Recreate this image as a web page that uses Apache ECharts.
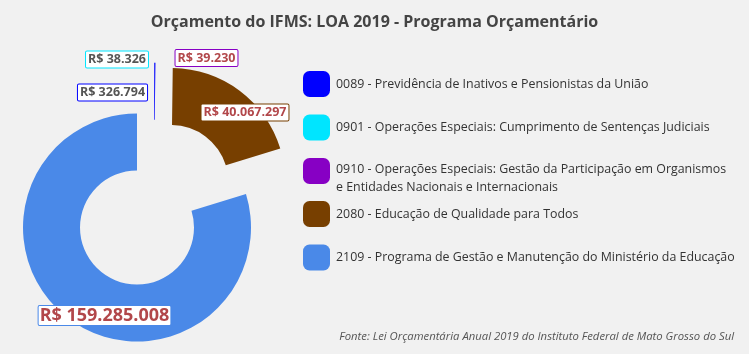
<!DOCTYPE html>
<html>
<head>
<meta charset="utf-8">
<script src="https://cdn.jsdelivr.net/npm/echarts@6/dist/echarts.min.js"></script>
<style>
  html, body { margin: 0; padding: 0; background: #f1f1f1; }
  #chart { width: 749px; height: 354px; }
</style>
</head>
<body>
<div id="chart"></div>
<script>
// programas na ordem em que aparecem na legenda
const legendNames = [
  '0089 - Previdência de Inativos e Pensionistas da União',
  '0901 - Operações Especiais: Cumprimento de Sentenças Judiciais',
  '0910 - Operações Especiais: Gestão da Participação em Organismos\ne Entidades Nacionais e Internacionais',
  '2080 - Educação de Qualidade para Todos',
  '2109 - Programa de Gestão e Manutenção do Ministério da Educação'
];
const values = [326794, 38326, 39230, 40067297, 159285008];
const colors = ['#0000ff', '#00e5ff', '#8700c4', '#773f00', '#4a89e8'];
const labelColors = ['#555555', '#555555', '#b2474a', '#b2474a', '#b2474a'];

// ordem horaria no grafico (a partir das 12h)
const pieOrder = [1, 2, 0, 3, 4];

// fatias "puxadas": cada grupo vira uma serie com centro deslocado
const groups = [
  { items: [4], center: [137, 227.5] },
  { items: [3], center: [171.3, 182] },
  { items: [0, 1, 2], center: [154, 176.7] }
];

// posicao dos rotulos (centro da caixa)
const labelPos = {
  0: [112.5, 92.5],
  1: [117, 59.5],
  2: [206.5, 58],
  3: [245, 112.5],
  4: [104.5, 315.5]
};

function fmt(v) {
  return 'R$ ' + v.toString().replace(/\B(?=(\d{3})+(?!\d))/g, '.');
}

const chart = echarts.init(document.getElementById('chart'));

const series = groups.map(g => ({
  type: 'pie',
  center: g.center,
  radius: [57, 114],
  startAngle: 90,
  clockwise: true,
  avoidLabelOverlap: false,
  animation: false,
  silent: true,
  itemStyle: { borderWidth: 0 },
  label: {
    show: true,
    position: 'inside',
    formatter: p => fmt(p.value),
    fontFamily: 'Open Sans',
    fontWeight: 'bold',
    backgroundColor: '#fff',
    borderWidth: 1,
    borderRadius: 1
  },
  labelLine: { show: false },
  labelLayout: p => {
    const pos = labelPos[pieOrder[p.dataIndex]];
    return { x: pos[0], y: pos[1], align: 'center', verticalAlign: 'middle' };
  },
  data: pieOrder.map(i => {
    const on = g.items.indexOf(i) >= 0;
    return {
      name: legendNames[i],
      value: values[i],
      itemStyle: { color: on ? colors[i] : 'rgba(0,0,0,0)' },
      label: {
        show: on,
        color: labelColors[i],
        borderColor: colors[i],
        fontSize: i === 4 ? 18 : 12.5,
        padding: i === 4 ? [1, 1, 0, 1] : [2, 2, 1, 2]
      }
    };
  })
}));

// tres blocos de legenda para manter os icones igualmente espacados
const legendBase = {
  orient: 'vertical',
  left: 303,
  padding: 0,
  itemWidth: 27,
  itemHeight: 26,
  itemGap: 17.5,
  icon: 'roundRect',
  selectedMode: false,
  textStyle: { fontFamily: 'Open Sans', fontSize: 12.4, color: '#333', padding: [0, 0, 0, 1] }
};
function legendItems(idx) {
  return idx.map(i => ({ name: legendNames[i], itemStyle: { color: colors[i] } }));
}

const option = {
  backgroundColor: '#f1f1f1',
  title: [{
    text: 'Orçamento do IFMS: LOA 2019 - Programa Orçamentário',
    left: 'center',
    top: 9,
    textStyle: { fontFamily: 'Open Sans', fontSize: 16, fontWeight: 'bold', color: '#444' }
  }, {
    text: 'Fonte: Lei Orçamentária Anual 2019 do Instituto Federal de Mato Grosso do Sul',
    right: 10,
    bottom: 7,
    textStyle: { fontFamily: 'Open Sans', fontSize: 11.3, fontStyle: 'italic', fontWeight: 'normal', color: '#555' }
  }],
  legend: [
    Object.assign({}, legendBase, { top: 71, data: legendItems([0, 1]) }),
    Object.assign({}, legendBase, {
      top: 146,
      data: legendItems([2]),
      // linha vazia no topo empurra o texto de duas linhas para baixo
      formatter: n => '{sp| }\n' + n,
      textStyle: Object.assign({}, legendBase.textStyle, {
        lineHeight: 18,
        rich: { sp: { fontSize: 1, lineHeight: 14 } }
      })
    }),
    Object.assign({}, legendBase, { top: 201, data: legendItems([3, 4]) })
  ],
  series: series
};

chart.setOption(option);
</script>
</body>
</html>
